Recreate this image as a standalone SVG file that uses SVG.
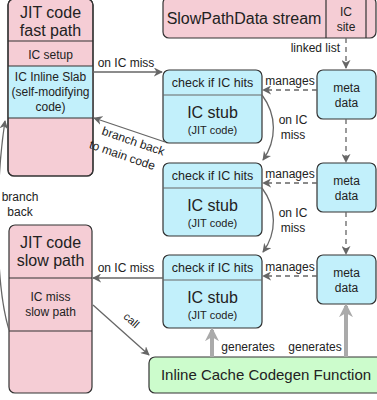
<svg xmlns="http://www.w3.org/2000/svg" width="377" height="400" viewBox="0 0 377 400">
<style>
text{font-family:"Liberation Sans",Arial,sans-serif;fill:#222;text-anchor:middle}
.pink{fill:#f5cdd5;stroke:#333;stroke-width:1.2}
.cyan{fill:#c2f0fb;stroke:#333;stroke-width:1.2}
.green{fill:#ccfccc;stroke:#333;stroke-width:1.2}
.div{stroke:#333;stroke-width:1.2;fill:none}
.divg{stroke:#666;stroke-width:1.2;fill:none}
.arr{stroke:#666;stroke-width:1.3;fill:none;marker-end:url(#ah)}
.dash{stroke:#666;stroke-width:1.3;fill:none;stroke-dasharray:5 4;marker-end:url(#ah)}
.thick{stroke:#aaa;stroke-width:4;fill:none;marker-end:url(#ahg)}
.f11{font-size:11px}
.f12{font-size:12px}
.f125{font-size:12.5px}
.f15{font-size:16px}
</style>
<defs>
<marker id="ah" viewBox="0 0 10 10" refX="9" refY="5" markerWidth="9" markerHeight="9" markerUnits="userSpaceOnUse" orient="auto">
<path d="M0,0 L10,5 L0,10 L3,5 Z" fill="#666"/>
</marker>
<marker id="ahg" viewBox="0 0 10 10" refX="8" refY="5" markerWidth="14" markerHeight="14" markerUnits="userSpaceOnUse" orient="auto">
<path d="M0,0 L10,5 L0,10 L3,5 Z" fill="#aaa"/>
</marker>
</defs>

<g id="fast-path">
<rect class="pink" x="8" y="-1" width="85" height="177" rx="6"/>
<rect x="8.6" y="66" width="83.8" height="52" fill="#c2f0fb"/>
<line class="div" x1="8" y1="41" x2="93" y2="41"/>
<line class="div" x1="8" y1="66" x2="93" y2="66"/>
<line class="div" x1="8" y1="118" x2="93" y2="118"/>
<rect x="8" y="-1" width="85" height="177" rx="6" fill="none" stroke="#333" stroke-width="1.2"/>
<text class="f15" x="50.5" y="18">JIT code</text>
<text class="f15" x="50.5" y="36">fast path</text>
<text class="f12" x="50.5" y="59">IC setup</text>
<text class="f12" x="50.5" y="81">IC Inline Slab</text>
<text class="f12" x="50.5" y="96">(self-modifying</text>
<text class="f12" x="50.5" y="111">code)</text>
</g>

<g id="slow-path">
<rect class="pink" x="9" y="225" width="83" height="168" rx="6"/>
<line class="div" x1="9" y1="278" x2="92" y2="278"/>
<line class="div" x1="9" y1="331" x2="92" y2="331"/>
<text class="f15" x="50.5" y="248">JIT code</text>
<text class="f15" x="50.5" y="266">slow path</text>
<text class="f12" x="50.5" y="301">IC miss</text>
<text class="f12" x="50.5" y="316">slow path</text>
</g>

<g id="slowpathdata">
<rect class="pink" x="163" y="-3" width="213" height="41" rx="6"/>
<line class="div" x1="326" y1="-3" x2="326" y2="38"/>
<line class="div" x1="366" y1="-3" x2="366" y2="38"/>
<text x="244" y="24" style="font-size:16px">SlowPathData stream</text>
<text class="f12" x="346" y="16">IC</text>
<text class="f12" x="346" y="31">site</text>
</g>

<g id="stub1">
<rect class="cyan" x="163" y="70" width="99" height="73" rx="6"/>
<line class="divg" x1="163" y1="95" x2="262" y2="95"/>
<text class="f125" x="212.5" y="87">check if IC hits</text>
<text class="f15" x="212.5" y="118">IC stub</text>
<text class="f11" x="212.5" y="134">(JIT code)</text>
</g>
<g id="stub2">
<rect class="cyan" x="163" y="163" width="99" height="73" rx="6"/>
<line class="divg" x1="163" y1="188" x2="262" y2="188"/>
<text class="f125" x="212.5" y="180">check if IC hits</text>
<text class="f15" x="212.5" y="211">IC stub</text>
<text class="f11" x="212.5" y="227">(JIT code)</text>
</g>
<g id="stub3">
<rect class="cyan" x="163" y="255" width="99" height="73" rx="6"/>
<line class="divg" x1="163" y1="280" x2="262" y2="280"/>
<text class="f125" x="212.5" y="272">check if IC hits</text>
<text class="f15" x="212.5" y="303">IC stub</text>
<text class="f11" x="212.5" y="319">(JIT code)</text>
</g>

<g id="meta1">
<rect class="cyan" x="317" y="70" width="59" height="49" rx="6"/>
<text class="f12" x="346.5" y="92">meta</text>
<text class="f12" x="346.5" y="107">data</text>
</g>
<g id="meta2">
<rect class="cyan" x="317" y="163" width="59" height="49" rx="6"/>
<text class="f12" x="346.5" y="185">meta</text>
<text class="f12" x="346.5" y="200">data</text>
</g>
<g id="meta3">
<rect class="cyan" x="317" y="255" width="59" height="49" rx="6"/>
<text class="f12" x="346.5" y="277">meta</text>
<text class="f12" x="346.5" y="292">data</text>
</g>

<g id="codegen">
<rect class="green" x="149" y="357" width="235" height="36" rx="6"/>
<text x="266" y="380" style="font-size:15px">Inline Cache Codegen Function</text>
</g>

<g id="connectors">
<path class="arr" d="M93,72 L162,72"/>
<text class="f12" x="126" y="67">on IC miss</text>
<path class="arr" d="M165,142 L94,118"/>
<text class="f12" transform="translate(132,145) rotate(19)">branch back</text>
<text class="f12" transform="translate(121,159) rotate(19)">to main code</text>
<path class="arr" d="M9,330 C-6,280 -4,180 5,121"/>
<text class="f12" x="20" y="201">branch</text>
<text class="f12" x="20" y="216">back</text>
<path class="arr" d="M163,278 L93,278"/>
<text class="f12" x="126" y="272">on IC miss</text>
<path class="arr" d="M93,305 L149,355"/>
<text class="f11" transform="translate(129,323) rotate(42)">call</text>
<path class="dash" d="M346,38 L346,68"/>
<text class="f12" x="340" y="52" style="text-anchor:end">linked list</text>
<path class="dash" d="M317,90 L263,90"/>
<text class="f12" x="290" y="85">manages</text>
<path class="dash" d="M346,119 L346,162"/>
<path class="dash" d="M317,183 L263,183"/>
<text class="f12" x="290" y="178">manages</text>
<path class="dash" d="M346,212 L346,254"/>
<path class="dash" d="M317,276 L263,276"/>
<text class="f12" x="290" y="271">manages</text>
<path class="arr" d="M262,95 C277,115 277,140 263,160"/>
<text class="f12" x="293" y="124">on IC</text>
<text class="f12" x="293" y="139">miss</text>
<path class="arr" d="M262,188 C277,208 277,233 263,252"/>
<text class="f12" x="293" y="217">on IC</text>
<text class="f12" x="293" y="232">miss</text>
<path class="thick" d="M212,357 L212,330"/>
<text class="f12" x="248" y="351">generates</text>
<path class="thick" d="M346,357 L346,306"/>
<text class="f12" x="315" y="351">generates</text>
</g>
</svg>
